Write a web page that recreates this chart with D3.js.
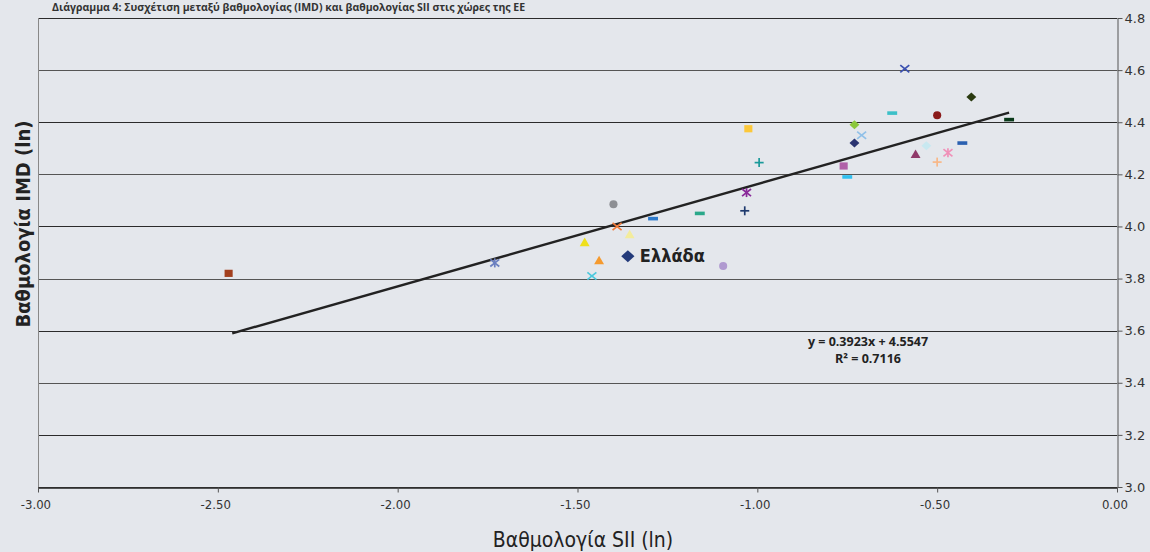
<!DOCTYPE html>
<html><head><meta charset="utf-8">
<script src="https://cdn.jsdelivr.net/npm/d3@7"></script>
<style>
html,body{margin:0;padding:0;background:#e4e7ec;}
svg{display:block;}
</style></head>
<body>
<svg id="c" width="1150" height="552"></svg>
<script>
// ---- data ----
const siiScores = [-2.47,-1.73,-1.40,-1.39,-1.355,-1.48,-1.44,-1.46,-1.36,-1.29,-1.16,-1.095,-1.03,-1.035,-0.995,-1.025,-0.59,-0.625,-0.73,-0.71,-0.73,-0.76,-0.75,-0.50,-0.405,-0.30,-0.43,-0.53,-0.56,-0.47,-0.50];
const imdScores = [3.82,3.86,4.085,4.00,3.97,3.94,3.87,3.81,3.886,4.03,4.05,3.848,4.13,4.06,4.245,4.375,4.605,4.435,4.39,4.35,4.32,4.232,4.19,4.427,4.497,4.41,4.32,4.31,4.278,4.283,4.247];
const pointLabels = ["","","","","","","","","Ελλάδα","","","","","","","","","","","","","","","","","","","","","",""];
const xTicks = [-3,-2.5,-2,-1.5,-1,-0.5,0];
const yTicks = [3.0,3.2,3.4,3.6,3.8,4.0,4.2,4.4,4.6,4.8];
const trendSlope = 0.3923, trendIntercept = 4.5547;
const trendRange = [-2.46,-0.30];
const eqLines = ["y = 0.3923x + 4.5547", "R² = 0.7116"];
const xTitle = "Βαθμολογία SII (ln)";
const yTitle = "Βαθμολογία IMD (ln)";
const chartTitle = "Διάγραμμα 4: Συσχέτιση μεταξύ βαθμολογίας (IMD) και βαθμολογίας SII στις χώρες της ΕΕ";

// ---- styles (separate) ----
const markerShapes = ["square","asterisk","circle","x","triangle","triangle","triangle","x","diamond","dash","dash","circle","asterisk","plus","plus","square","x","dash","diamond","x","diamond","square","dash","circle","diamond","dash","dash","diamond","triangle","asterisk","plus"];
const markerColors = ["#a3401e","#6a7fc0","#8d8f94","#f07a3a","#f3ec9c","#efe01c","#f59a2e","#4cc8dc","#233a7a","#2e7acb","#2aa88a","#b09ad0","#8a2a9a","#1e3a6e","#1a9a9a","#fcc83a","#3a50b0","#3cc0c8","#8cc83c","#90c0e8","#2a3470","#b060a8","#30c0f0","#8a1a1a","#2a3a10","#0a3a1a","#2a60b0","#c8e8f0","#903a6a","#f090b8","#f8b888"];

const svg = d3.select("#c");
const x = d3.scaleLinear().domain([-3,0]).range([38,1117]);
const y = d3.scaleLinear().domain([3,4.8]).range([487,18]);

// title (top edge)
svg.append("text").attr("x",52).attr("y",11).attr("font-family","'Open Sans',sans-serif")
  .attr("font-weight","bold").attr("font-size",10.5).attr("fill","#333").text(chartTitle);

// gridlines
svg.append("g").selectAll("line").data(yTicks).join("line")
  .attr("x1",38).attr("x2",1117).attr("y1",d=>Math.round(y(d))+0.5).attr("y2",d=>Math.round(y(d))+0.5)
  .attr("stroke",(d,i)=> i%2? "#2b2b2b":"#555").attr("stroke-width",1.2);

// left border
svg.append("line").attr("x1",38.5).attr("x2",38.5).attr("y1",y(4.8)).attr("y2",y(3))
  .attr("stroke","#888").attr("stroke-width",1);

// right y axis
const yAxis = d3.axisRight(y).tickValues(yTicks).tickFormat(d3.format(".1f")).tickSize(5).tickSizeOuter(0);
const gy = svg.append("g").attr("transform","translate(1117.5,0)").call(yAxis);
gy.select(".domain").attr("stroke","#555");
gy.selectAll(".tick line").attr("stroke","#555");
gy.selectAll("text").attr("font-family","'DejaVu Sans',sans-serif").attr("font-size",13).attr("fill","#333").attr("dx",-1);

// bottom x axis
const xAxis = d3.axisBottom(x).tickValues(xTicks).tickFormat(d=>d3.format(".2f")(d).replace("−","-")).tickSize(5).tickSizeOuter(0);
const gx = svg.append("g").attr("transform","translate(0,487.5)").call(xAxis);
gx.select(".domain").attr("stroke","#222").attr("stroke-width",1.5);
gx.selectAll(".tick line").attr("stroke","#555");
gx.selectAll("text").attr("font-family","'DejaVu Sans Condensed','DejaVu Sans',sans-serif").attr("font-size",13).attr("fill","#333").attr("dy","1.05em").attr("dx","-0.2em");

// trend line
svg.append("line").attr("x1",x(trendRange[0])).attr("y1",y(trendSlope*trendRange[0]+trendIntercept))
  .attr("x2",x(trendRange[1])).attr("y2",y(trendSlope*trendRange[1]+trendIntercept))
  .attr("stroke","#222").attr("stroke-width",2.4);

// markers
function markerPath(shape, s){
  const p = d3.path();
  switch(shape){
    case "square": p.rect(-s*0.45,-s*0.4,s*0.9,s*0.8); break;
    case "diamond": p.moveTo(0,-s*0.5);p.lineTo(s*0.55,0);p.lineTo(0,s*0.5);p.lineTo(-s*0.55,0);p.closePath(); break;
    case "triangle": p.moveTo(0,-s*0.5);p.lineTo(s*0.55,s*0.45);p.lineTo(-s*0.55,s*0.45);p.closePath(); break;
    case "circle": p.moveTo(s*0.45,0); p.arc(0,0,s*0.45,0,2*Math.PI); break;
    case "dash": p.rect(-s*0.55,-s*0.2,s*1.1,s*0.4); break;
  }
  return p.toString();
}
const g = svg.append("g");
siiScores.forEach((v,i)=>{
  const cx = x(v), cy = y(imdScores[i]);
  const shape = markerShapes[i], col = markerColors[i];
  const s = pointLabels[i] ? 12 : 9;
  const m = g.append("g").attr("transform",`translate(${cx},${cy})`);
  if(["x","asterisk","plus"].includes(shape)){
    const r = s*0.5, segs = [];
    if(shape!=="plus"){ segs.push([-r,-r*0.8,r,r*0.8],[-r,r*0.8,r,-r*0.8]); }
    if(shape!=="x"){ if(shape==="plus") segs.push([-r,0,r,0]); segs.push([0,-r,0,r]); }
    segs.forEach(q=> m.append("line").attr("x1",q[0]).attr("y1",q[1]).attr("x2",q[2]).attr("y2",q[3]).attr("stroke",col).attr("stroke-width",1.7));
  } else {
    m.append("path").attr("d",markerPath(shape,s)).attr("fill",col);
  }
  if(pointLabels[i]){
    svg.append("text").attr("x",cx+12).attr("y",cy+6).attr("font-family","'DejaVu Sans Condensed','DejaVu Sans',sans-serif")
      .attr("font-weight","bold").attr("font-size",18).attr("fill","#222").text(pointLabels[i]);
  }
});

// equation
eqLines.forEach((t,i)=>{
  svg.append("text").attr("x",868).attr("y",346+i*17).attr("text-anchor","middle")
    .attr("font-family","'Open Sans',sans-serif").attr("font-weight","bold").attr("font-size",12.5).attr("fill","#222").text(t);
});

// axis titles
svg.append("text").attr("x",583).attr("y",547).attr("text-anchor","middle")
  .attr("font-family","'DejaVu Sans Condensed','DejaVu Sans',sans-serif").attr("font-size",21).attr("fill","#222").text(xTitle);
svg.append("text").attr("transform","translate(30,224) rotate(-90)").attr("text-anchor","middle")
  .attr("font-family","'DejaVu Sans Condensed','DejaVu Sans',sans-serif").attr("font-weight","bold").attr("font-size",20).attr("fill","#222").text(yTitle);
</script>
</body></html>
